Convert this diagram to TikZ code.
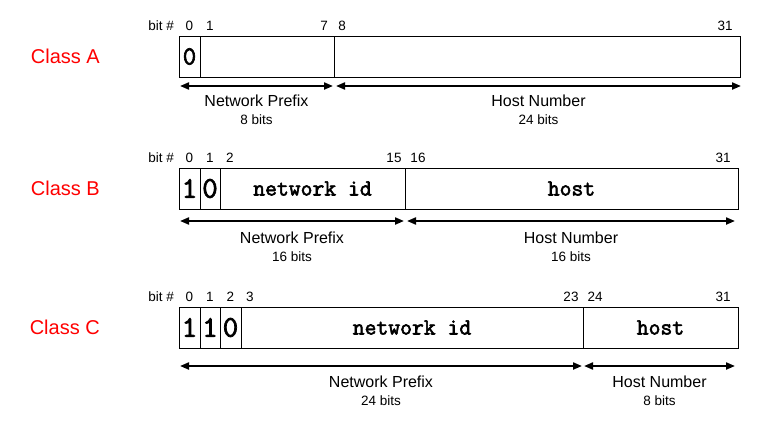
\documentclass[tikz,border=0pt]{standalone}
\usepackage{fontspec}
\setmainfont{Liberation Sans}
\newfontfamily\codefont[FakeBold=2.5]{Latin Modern Mono}
\usetikzlibrary{arrows.meta, positioning}

\begin{document}
\begin{tikzpicture}[
  x=1pt, y=-1pt,
  cell/.style={draw, line width=1pt, minimum height=41pt, inner sep=0pt, outer sep=0pt},
  digit/.style={font=\fontsize{30}{30}\selectfont\codefont},
  smalldigit/.style={font=\fontsize{26}{26}\selectfont\codefont},
  field/.style={font=\fontsize{23}{23}\selectfont\codefont},
  cls/.style={text=red, inner sep=0pt, font=\fontsize{20}{20}\selectfont},
  bitno/.style={anchor=base, inner sep=0pt, font=\fontsize{13.5}{14}\selectfont},
  lbl/.style={inner sep=0pt, font=\fontsize{16}{18}\selectfont},
  bits/.style={inner sep=0pt, font=\fontsize{13.5}{14}\selectfont},
  arr/.style={{Triangle[length=9pt,width=7pt]}-{Triangle[length=9pt,width=7pt]}, line width=2pt}
]
  \useasboundingbox (0,0) rectangle (776,429);

  % Class A
  \node[cell, smalldigit, minimum width=21pt, anchor=north west] (a0) at (179,36) {0};
  \node[cell, minimum width=134pt, right=0pt of a0] (a1) {};
  \node[cell, minimum width=406pt, right=0pt of a1] (a2) {};
  \node[cls, left=79pt of a0] (clsa) {Class A};

  \node[bitno, anchor=base east] (a-bit) at ([xshift=-5pt,yshift=5.5pt]a0.north west) {bit \#};
  \node[bitno] (a-n0) at ([yshift=5.5pt]a0.north) {0};
  \node[bitno] (a-n1) at ([xshift=10pt,yshift=5.5pt]a1.north west) {1};
  \node[bitno] (a-n7) at ([xshift=-10pt,yshift=5.5pt]a1.north east) {7};
  \node[bitno] (a-n8) at ([xshift=8pt,yshift=5.5pt]a2.north west) {8};
  \node[bitno] (a-n31) at ([xshift=-15pt,yshift=5.5pt]a2.north east) {31};

  \draw[arr] ([xshift=1pt,yshift=-9pt]a0.south west) -- ([xshift=-1pt,yshift=-9pt]a1.south east)
    node[lbl, midway, below=8pt] (a-np) {Network Prefix};
  \draw[arr] ([xshift=2pt,yshift=-9pt]a2.south west) -- ([xshift=1pt,yshift=-9pt]a2.south east)
    node[lbl, midway, below=8pt] (a-hn) {Host Number};
  \node[bits, below=7pt of a-np] (a-npb) {8 bits};
  \node[bits, below=7pt of a-hn] (a-hnb) {24 bits};

  % Class B
  \node[cell, digit, minimum width=21pt, anchor=north west] (b0) at (179,168) {1};
  \node[cell, digit, minimum width=20pt, right=0pt of b0] (b1) {0};
  \node[cell, field, minimum width=185pt, right=0pt of b1] (b2) {network id};
  \node[cell, field, minimum width=333pt, right=0pt of b2] (b3) {host};
  \node[cls, left=79pt of b0] (clsb) {Class B};

  \node[bitno, anchor=base east] (b-bit) at ([xshift=-5pt,yshift=5.5pt]b0.north west) {bit \#};
  \node[bitno] (b-n0) at ([yshift=5.5pt]b0.north) {0};
  \node[bitno] (b-n1) at ([yshift=5.5pt]b1.north) {1};
  \node[bitno] (b-n2) at ([xshift=10pt,yshift=5.5pt]b2.north west) {2};
  \node[bitno] (b-n15) at ([xshift=-11pt,yshift=5.5pt]b2.north east) {15};
  \node[bitno] (b-n16) at ([xshift=13pt,yshift=5.5pt]b3.north west) {16};
  \node[bitno] (b-n31) at ([xshift=-15pt,yshift=5.5pt]b3.north east) {31};

  \draw[arr] ([xshift=1pt,yshift=-12pt]b0.south west) -- ([xshift=-1pt,yshift=-12pt]b2.south east)
    node[lbl, midway, below=10pt] (b-np) {Network Prefix};
  \draw[arr] ([xshift=2pt,yshift=-12pt]b3.south west) -- ([xshift=-3pt,yshift=-12pt]b3.south east)
    node[lbl, midway, below=10pt] (b-hn) {Host Number};
  \node[bits, below=7pt of b-np] (b-npb) {16 bits};
  \node[bits, below=7pt of b-hn] (b-hnb) {16 bits};

  % Class C
  \node[cell, digit, minimum width=21pt, anchor=north west] (c0) at (179,307) {1};
  \node[cell, digit, minimum width=20pt, right=0pt of c0] (c1) {1};
  \node[cell, digit, minimum width=21pt, right=0pt of c1] (c2) {0};
  \node[cell, field, minimum width=342pt, right=0pt of c2] (c3) {network id};
  \node[cell, field, minimum width=155pt, right=0pt of c3] (c4) {host};
  \node[cls, left=79pt of c0] (clsc) {Class C};

  \node[bitno, anchor=base east] (c-bit) at ([xshift=-5pt,yshift=5.5pt]c0.north west) {bit \#};
  \node[bitno] (c-n0) at ([yshift=5.5pt]c0.north) {0};
  \node[bitno] (c-n1) at ([yshift=5.5pt]c1.north) {1};
  \node[bitno] (c-n2) at ([yshift=5.5pt]c2.north) {2};
  \node[bitno] (c-n3) at ([xshift=9pt,yshift=5.5pt]c3.north west) {3};
  \node[bitno] (c-n23) at ([xshift=-12pt,yshift=5.5pt]c3.north east) {23};
  \node[bitno] (c-n24) at ([xshift=12pt,yshift=5.5pt]c4.north west) {24};
  \node[bitno] (c-n31) at ([xshift=-15pt,yshift=5.5pt]c4.north east) {31};

  \draw[arr] ([xshift=1pt,yshift=-18pt]c0.south west) -- ([xshift=-1pt,yshift=-18pt]c3.south east)
    node[lbl, midway, below=9pt] (c-np) {Network Prefix};
  \draw[arr] ([xshift=1pt,yshift=-18pt]c4.south west) -- ([xshift=-3pt,yshift=-18pt]c4.south east)
    node[lbl, midway, below=9pt] (c-hn) {Host Number};
  \node[bits, below=7pt of c-np] (c-npb) {24 bits};
  \node[bits, below=7pt of c-hn] (c-hnb) {8 bits};

\end{tikzpicture}
\end{document}
